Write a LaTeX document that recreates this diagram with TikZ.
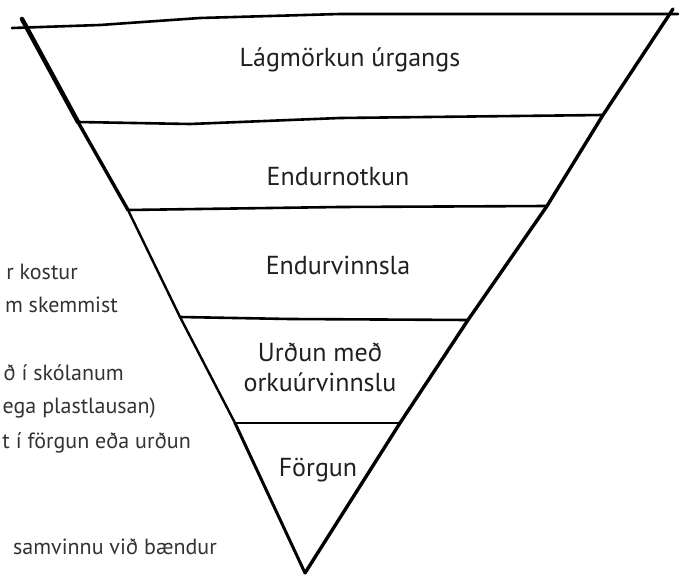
\documentclass[tikz,border=0pt]{standalone}
\usepackage{fontspec}
\setmainfont{PT Sans}
\usepackage{tikz}
\definecolor{ink}{HTML}{231F20}
\definecolor{greyink}{HTML}{333333}
\tikzset{level/.style={font=\fontsize{26}{30}\selectfont, text=ink, align=center, inner sep=0pt},
  cut/.style={font=\fontsize{22}{26}\selectfont, text=greyink, anchor=east, inner sep=0pt},
  pen/.style={line width=2.6pt, line join=round, line cap=round}}

\begin{document}
\begin{tikzpicture}[x=1pt,y=-1pt]
\clip (0,0) rectangle (683,575);
% corners of the funnel
\coordinate (L0) at (22,19);
\coordinate (L1) at (78,122);
\coordinate (L2) at (128,210);
\coordinate (L3) at (180,317);
\coordinate (L4) at (235,423);
\coordinate (apex) at (305,573);
\coordinate (R0) at (673,9);
\coordinate (R1) at (603,115);
\coordinate (R2) at (547,206);
\coordinate (R3) at (468,320);
\coordinate (R4) at (400,423);
\coordinate (T0) at (12,28);
\coordinate (T1) at (678,14);

\node[level] (reduce) at (350,60) {Lágmörkun úrgangs};
\node[level] (reuse) at (338,177) {Endurnotkun};
\node[level] (recycle) at (338,265) {Endurvinnsla};
\node[level] (energy) at (320,367) {Urðun með\\orkuúrvinnslu};
\node[level] (disposal) at (318,470) {Förgun};

\node[cut] (cut-1) at (78,272) {r kostur};
\node[cut] (cut-2) at (118,305) {m skemmist};
\node[cut] (cut-3) at (124,373) {ð í skólanum};
\node[cut] (cut-4) at (156,408) {ega plastlausan)};
\node[cut] (cut-5) at (191,443) {t í förgun eða urðun};
\node[cut] (cut-6) at (217,547) {samvinnu við bændur};
\node[cut] (cut-7) at (52,590) {Ð};

% rims
\draw[pen] (T0) -- (100,25) -- (200,18) -- (340,14) -- (500,14) -- (T1);
\draw[pen] (L1) -- (190,124) -- (340,118) -- (R1);
\draw[pen] (L2) -- (340,207) -- (R2);
\draw[pen] (L3) -- (290,319) -- (R3);
\draw[pen] (L4) -- (R4);
% sides
\draw[pen, line width=4.5pt] (L0) -- (L1);
\draw[pen, line width=3.4pt] (L1) -- (L2);
\draw[pen, line width=2.4pt] (L2) -- (L3) -- (L4);
\draw[pen, line width=3pt] (L4) -- (apex);
\draw[pen, line width=3.4pt] (R0) -- (R1) -- (R2) -- (R3) -- (R4) -- (apex);
\end{tikzpicture}
\end{document}
